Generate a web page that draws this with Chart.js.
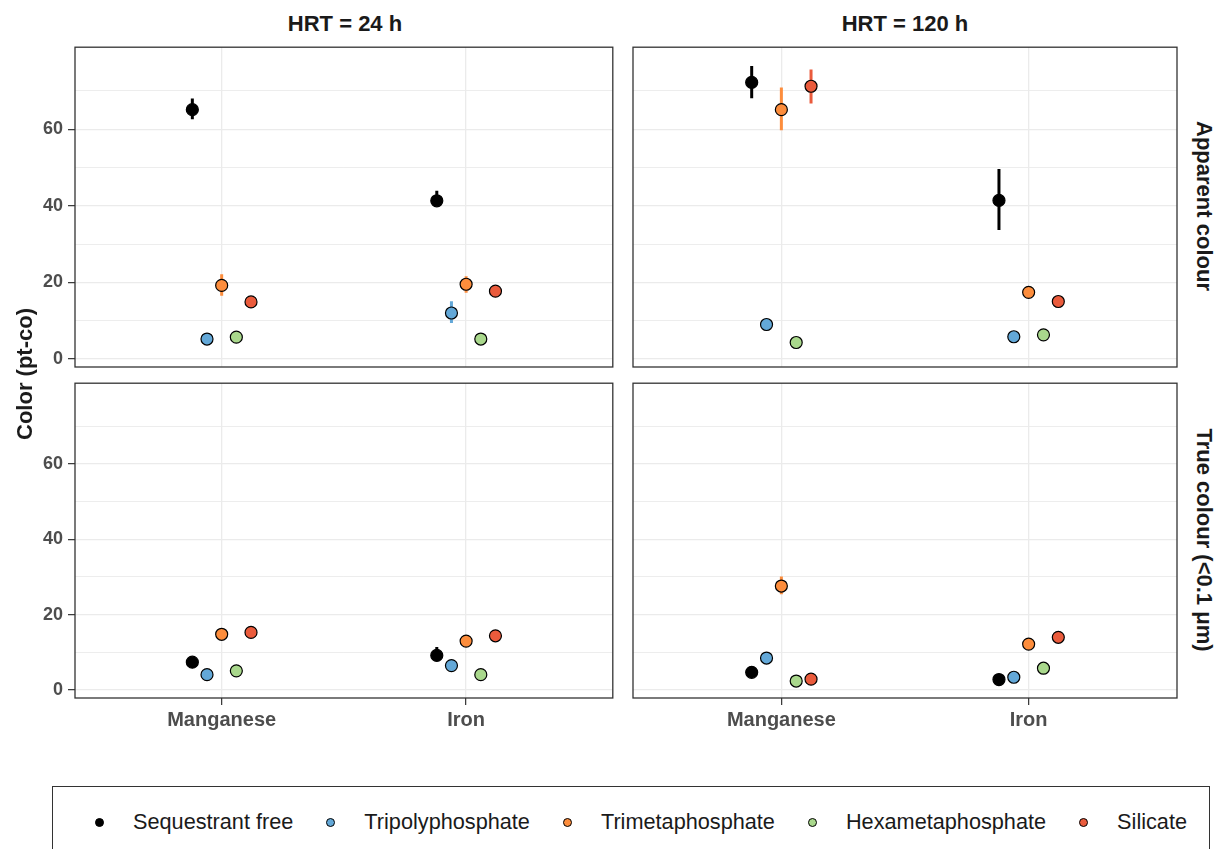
<!DOCTYPE html>
<html>
<head>
<meta charset="utf-8">
<script src="https://cdn.jsdelivr.net/npm/chart.js@4.4.0/dist/chart.umd.min.js"></script>
<style>
  body { margin: 0; background: #fff; font-family: "Liberation Sans", Arial, sans-serif; }
  #wrap { position: relative; width: 1222px; height: 849px; overflow: hidden; background: #fff; }
  canvas { position: absolute; }
  .strip { position: absolute; font-weight: bold; font-size: 22px; color: #1a1a1a; white-space: nowrap; }
  .top { transform: translate(-50%, -50%); }
  .side { transform: translate(-50%, -50%) rotate(90deg); }
  #ytitle { position: absolute; left: 25px; top: 374px; transform: translate(-50%, -50%) rotate(-90deg);
            font-weight: bold; font-size: 22px; color: #1a1a1a; white-space: nowrap; }
  #legend { position: absolute; left: 52px; top: 786px; width: 1158px; height: 80px;
            border: 1.3px solid #333; box-sizing: border-box; }
  #legend .row { position: absolute; left: 42px; top: 22px; width: 1200px; display: flex; align-items: center; flex-wrap: nowrap; }
  .item { display: flex; align-items: center; flex-shrink: 0; white-space: nowrap; margin-right: 33px; font-size: 21.7px; color: #1a1a1a; }
  .dot { width: 9px; height: 9px; flex-shrink: 0; border-radius: 50%; border: 1px solid #000; margin-right: 29px; box-sizing: border-box; }
</style>
</head>
<body>
<div id="wrap">
  <canvas id="c1" width="620" height="335" style="left:0;top:40px"></canvas>
  <canvas id="c2" width="560" height="335" style="left:625px;top:40px"></canvas>
  <canvas id="c3" width="620" height="360" style="left:0;top:376px"></canvas>
  <canvas id="c4" width="560" height="360" style="left:625px;top:376px"></canvas>
  <div class="strip top" id="s1" style="left:345px;top:24px"></div>
  <div class="strip top" id="s2" style="left:905px;top:24px"></div>
  <div class="strip side" id="s3" style="left:1204px;top:206px"></div>
  <div class="strip side" id="s4" style="left:1204px;top:540px"></div>
  <div id="ytitle">Color (pt-co)</div>
  <div id="legend"><div class="row" id="legrow"></div></div>
</div>
<script>
const categories = ['Manganese', 'Iron'];
const treatments = ['Sequestrant free', 'Tripolyphosphate', 'Trimetaphosphate', 'Hexametaphosphate', 'Silicate'];
const hrtLabels = ['HRT = 24 h', 'HRT = 120 h'];
const colourLabels = ['Apparent colour', 'True colour (<0.1 \u03bcm)'];
const yMajorTicks = [0, 20, 40, 60];
const yMinorTicks = [10, 30, 50, 70];

// rows follow treatments, columns follow categories [Manganese, Iron]
const apparent24Mean = [[65.1, 41.3], [5.2, 12.0], [19.2, 19.5], [5.7, 5.2], [14.9, 17.7]];
const apparent24Low  = [[62.6, 40.3], [5.2, 9.4], [16.5, 17.3], [5.7, 5.2], [14.9, 17.7]];
const apparent24High = [[68.0, 43.9], [5.2, 15.1], [22.1, 21.6], [5.7, 5.2], [14.9, 17.7]];

const apparent120Mean = [[72.2, 41.4], [9.0, 5.8], [65.1, 17.4], [4.3, 6.3], [71.2, 15.0]];
const apparent120Low  = [[68.1, 33.7], [9.0, 5.8], [59.7, 17.4], [4.3, 6.3], [66.7, 15.0]];
const apparent120High = [[76.5, 49.6], [9.0, 5.8], [70.9, 17.4], [4.3, 6.3], [75.6, 15.0]];

const true24Mean = [[7.4, 9.2], [4.1, 6.5], [14.8, 13.0], [5.1, 4.1], [15.3, 14.4]];
const true24Low  = [[7.4, 8.4], [4.1, 6.5], [14.8, 13.0], [5.1, 4.1], [15.3, 14.4]];
const true24High = [[7.4, 11.4], [4.1, 6.5], [14.8, 13.0], [5.1, 4.1], [15.3, 14.4]];

const true120Mean = [[4.7, 2.8], [8.5, 3.4], [27.6, 12.2], [2.4, 5.8], [2.9, 14.0]];
const true120Low  = [[4.7, 2.8], [8.5, 3.4], [25.4, 12.2], [2.4, 5.8], [2.9, 14.0]];
const true120High = [[4.7, 2.8], [8.5, 3.4], [30.1, 12.2], [2.4, 5.8], [2.9, 14.0]];

const colors = ['#000000', '#63a8d8', '#fd8d3c', '#a9d88c', '#ea5b3c'];
const dodgeWidth = 0.3;
const FONT = '"Liberation Sans", Arial, sans-serif';

// error bars under the points
const errorBars = {
  id: 'errorBars',
  beforeDatasetsDraw(chart) {
    const ctx = chart.ctx, ys = chart.scales.y, xs = chart.scales.x;
    ctx.save();
    ctx.beginPath();
    ctx.rect(chart.chartArea.left, chart.chartArea.top, chart.chartArea.width, chart.chartArea.height);
    ctx.clip();
    chart.data.datasets.forEach(ds => {
      ctx.strokeStyle = ds.barColor;
      ctx.lineWidth = 3;
      ds.data.forEach(p => {
        if (p.lo === p.hi) return;
        const x = xs.getPixelForValue(p.x);
        ctx.beginPath();
        ctx.moveTo(x, ys.getPixelForValue(p.lo));
        ctx.lineTo(x, ys.getPixelForValue(p.hi));
        ctx.stroke();
      });
    });
    ctx.restore();
  }
};

const panelBorder = {
  id: 'panelBorder',
  afterDraw(chart) {
    const a = chart.chartArea, ctx = chart.ctx;
    ctx.save();
    ctx.strokeStyle = '#333333';
    ctx.lineWidth = 1.3;
    ctx.strokeRect(a.left, a.top, a.right - a.left, a.bottom - a.top);
    ctx.restore();
  }
};

function makePanel(id, mean, low, high, showY, showX, padding) {
  const n = treatments.length;
  const datasets = treatments.map((name, i) => {
    const off = (i - (n - 1) / 2) * dodgeWidth / n;
    return {
      label: name,
      data: categories.map((c, j) => ({ x: j + 1 + off, y: mean[i][j], lo: low[i][j], hi: high[i][j] })),
      backgroundColor: colors[i],
      borderColor: '#000000',
      barColor: colors[i],
      borderWidth: 1.2,
      pointRadius: 6
    };
  });
  return new Chart(document.getElementById(id), {
    type: 'scatter',
    data: { datasets },
    plugins: [errorBars, panelBorder],
    options: {
      responsive: false,
      animation: false,
      devicePixelRatio: 1,
      layout: { padding },
      plugins: { legend: { display: false }, tooltip: { enabled: false } },
      scales: {
        x: {
          type: 'linear', min: 0.4, max: 2.6,
          afterBuildTicks: ax => { ax.ticks = categories.map((c, j) => ({ value: j + 1 })); },
          afterFit: ax => { ax.height = showX ? 38 : 0; ax.paddingLeft = 0; ax.paddingRight = 0; },
          border: { display: false },
          grid: { color: '#ebebeb', lineWidth: 1.3, drawTicks: showX, tickLength: 7, tickColor: '#333333', tickWidth: 1.2 },
          ticks: {
            display: showX, autoSkip: false, maxRotation: 0, padding: 3, color: '#4d4d4d',
            font: { family: FONT, size: 20, weight: 'bold' },
            callback: v => categories[Math.round(v) - 1]
          }
        },
        y: {
          type: 'linear', min: -2.1, max: 81.4,
          afterBuildTicks: ax => {
            ax.ticks = yMajorTicks.concat(yMinorTicks).sort((a, b) => a - b).map(v => ({ value: v }));
          },
          afterFit: ax => { ax.width = showY ? 75 : 0; ax.paddingTop = 0; ax.paddingBottom = 0; },
          border: { display: false },
          grid: {
            color: '#ebebeb',
            lineWidth: c => (c.tick && yMajorTicks.includes(c.tick.value)) ? 1.3 : 0.9,
            drawTicks: showY, tickLength: 7, tickWidth: 1.2,
            tickColor: c => (c.tick && yMajorTicks.includes(c.tick.value)) ? '#333333' : 'rgba(0,0,0,0)'
          },
          ticks: {
            display: showY, autoSkip: false, padding: 5, color: '#4d4d4d',
            font: { family: FONT, size: 18, weight: 'bold' },
            callback: v => yMajorTicks.includes(v) ? String(v) : ''
          }
        }
      }
    }
  });
}

makePanel('c1', apparent24Mean, apparent24Low, apparent24High, true, false, { left: 0, right: 6, top: 7, bottom: 8 });
makePanel('c2', apparent120Mean, apparent120Low, apparent120High, false, false, { left: 8, right: 8, top: 7, bottom: 8 });
makePanel('c3', true24Mean, true24Low, true24High, true, true, { left: 0, right: 6, top: 7, bottom: 0 });
makePanel('c4', true120Mean, true120Low, true120High, false, true, { left: 8, right: 8, top: 7, bottom: 0 });

document.getElementById('s1').textContent = hrtLabels[0];
document.getElementById('s2').textContent = hrtLabels[1];
document.getElementById('s3').textContent = colourLabels[0];
document.getElementById('s4').textContent = colourLabels[1];

const row = document.getElementById('legrow');
treatments.forEach((name, i) => {
  const item = document.createElement('div');
  item.className = 'item';
  const dot = document.createElement('span');
  dot.className = 'dot';
  dot.style.background = colors[i];
  const txt = document.createElement('span');
  txt.textContent = name;
  item.appendChild(dot);
  item.appendChild(txt);
  row.appendChild(item);
});
</script>
</body>
</html>
